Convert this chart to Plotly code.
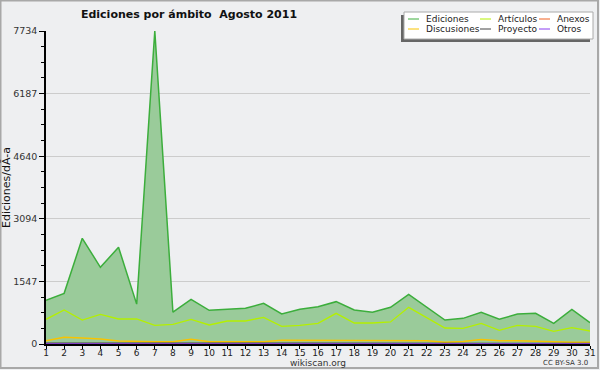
import plotly.graph_objects as go

days = list(range(1, 32))
day_labels = [str(d) for d in days]

ediciones = [1080, 1252, 2611, 1895, 2390, 985, 7734, 786, 1104, 832, 857, 882, 1005, 741, 857,
             922, 1046, 840, 783, 906, 1228, 906, 593, 634, 783, 610, 741, 758, 511, 857, 527]
articulos = [610, 840, 593, 733, 618, 618, 461, 486, 610, 470, 568, 568, 659, 437, 461,
             511, 758, 519, 519, 544, 906, 659, 395, 387, 511, 338, 461, 437, 313, 403, 321]
discusiones = [82, 165, 150, 124, 75, 57, 57, 57, 116, 57, 57, 57, 57, 91, 91,
               82, 82, 82, 82, 82, 82, 82, 42, 62, 111, 82, 82, 67, 42, 42, 42]
anexos = [3, 3, 3, 3, 5, 10, 12, 10, 3, 3, 3, 3, 3, 3, 3,
          3, 3, 3, 3, 3, 3, 3, 5, 8, 10, 8, 5, 3, 3, 3, 3]
proyecto = [20, 25, 25, 22, 20, 18, 18, 18, 20, 18, 18, 18, 18, 20, 20,
            20, 20, 20, 20, 20, 20, 20, 15, 15, 18, 18, 18, 15, 15, 15, 15]
otros = [1, 1, 1, 1, 1, 1, 1, 1, 1, 1, 1, 1, 1, 1, 1,
         1, 1, 1, 1, 1, 1, 1, 1, 1, 1, 1, 1, 1, 1, 1, 1]

y_max = 7734
y_ticks = [0, 1547, 3094, 4640, 6187, 7734]

series_names = ["Ediciones", "Artículos", "Anexos", "Discusiones", "Proyecto", "Otros"]
series_colors = ["#3cae3c", "#b4f000", "#f06020", "#f8c400", "#444444", "#8a3cf0"]

fig = go.Figure()
fig.add_trace(go.Scatter(x=days, y=ediciones, name=series_names[0], mode="lines",
                         line=dict(color=series_colors[0], width=1.5), fill="tozeroy",
                         fillcolor="#9acb9a"))
fig.add_trace(go.Scatter(x=days, y=articulos, name=series_names[1], mode="lines",
                         line=dict(color=series_colors[1], width=1.3)))
fig.add_trace(go.Scatter(x=days, y=anexos, name=series_names[2], mode="lines",
                         line=dict(color=series_colors[2], width=1.3)))
fig.add_trace(go.Scatter(x=days, y=discusiones, name=series_names[3], mode="lines",
                         line=dict(color=series_colors[3], width=1.5)))
fig.add_trace(go.Scatter(x=days, y=proyecto, name=series_names[4], mode="lines",
                         line=dict(color=series_colors[4], width=1.3)))
fig.add_trace(go.Scatter(x=days, y=otros, name=series_names[5], mode="lines",
                         line=dict(color=series_colors[5], width=1.3)))

L, R, T, B = 46, 10, 31, 26
W, H = 600, 370
pw, ph = W - L - R, H - T - B

def px_x(p):
    return (p - L) / pw

def px_y(p):
    return (H - B - p) / ph

shapes = []
annotations = []
# outer frame
shapes.append(dict(type="rect", xref="paper", yref="paper",
                   x0=px_x(0.5), x1=px_x(598), y0=px_y(0.5), y1=px_y(368),
                   line=dict(color="#a8a8a8", width=2), layer="below"))
# legend shadow and box
shapes.append(dict(type="rect", xref="paper", yref="paper",
                   x0=px_x(401), x1=px_x(590), y0=px_y(15), y1=px_y(42),
                   line=dict(width=0), fillcolor="#666666", layer="above"))
shapes.append(dict(type="rect", xref="paper", yref="paper",
                   x0=px_x(404), x1=px_x(593), y0=px_y(12), y1=px_y(39),
                   line=dict(width=1, color="#aaaaaa"), fillcolor="#ffffff", layer="above"))
col_line_x = [408, 480, 539]
col_text_x = [424, 496, 555]
row_y = [19, 29]
for i, (nm, col) in enumerate(zip(series_names, series_colors)):
    r, c = divmod(i, 3)
    shapes.append(dict(type="line", xref="paper", yref="paper",
                       x0=px_x(col_line_x[c]), x1=px_x(col_line_x[c] + 11),
                       y0=px_y(row_y[r]), y1=px_y(row_y[r]),
                       line=dict(color=col, width=1), layer="above"))
    annotations.append(dict(text=nm, x=px_x(col_text_x[c]), xref="paper",
                            y=px_y(row_y[r]), yref="paper", showarrow=False,
                            xanchor="left", yanchor="middle",
                            font=dict(size=9, color="#222222")))

annotations += [
    dict(text="wikiscan.org", x=0.5, xref="paper", y=px_y(362.5), yref="paper",
         showarrow=False, xanchor="center", yanchor="middle",
         font=dict(size=9, color="#333333")),
    dict(text="CC BY-SA 3.0", x=px_x(590), xref="paper", y=px_y(362.5), yref="paper",
         showarrow=False, xanchor="right", yanchor="middle",
         font=dict(size=7, color="#333333")),
]

fig.update_layout(
    width=W, height=H,
    margin=dict(l=L, r=R, t=T, b=B, autoexpand=False),
    paper_bgcolor="#eeeff1",
    plot_bgcolor="#eeeff1",
    font=dict(family="DejaVu Sans", size=10, color="#222222"),
    title=dict(text="<b>Ediciones por ámbito  Agosto 2011</b>", x=189 / W, xref="container",
               xanchor="center", y=1 - 14 / H, yref="container", yanchor="middle",
               font=dict(family="DejaVu Sans", size=11, color="#111111")),
    showlegend=False,
    xaxis=dict(range=[1, 31], tickmode="array", tickvals=days, ticktext=day_labels,
               showgrid=False, zeroline=False, showline=True, linecolor="#000000", linewidth=2,
               ticks="outside", ticklen=3, tickcolor="#000000", automargin=False,
               ticklabelstandoff=-4,
               tickfont=dict(size=9, color="#222222")),
    yaxis=dict(range=[0, y_max], tickmode="array", tickvals=y_ticks,
               ticktext=[str(v) for v in y_ticks],
               showgrid=True, gridcolor="#cccccc", gridwidth=1, zeroline=False,
               showline=True, linecolor="#000000", linewidth=1.5, automargin=False,
               ticks="outside", ticklen=5, tickcolor="#000000",
               minor=dict(dtick=y_max / 20, tick0=0, ticks="outside", ticklen=3,
                          tickcolor="#000000", showgrid=False),
               tickfont=dict(size=9.5, color="#333333"),
               title=dict(text="Ediciones/dÃ-a", standoff=6,
                          font=dict(size=11, color="#111111"))),
    shapes=shapes,
    annotations=annotations,
)

fig.write_html("out.html", config={"displayModeBar": False},
               post_script="document.body.style.margin='0';document.body.style.overflow='hidden';")
